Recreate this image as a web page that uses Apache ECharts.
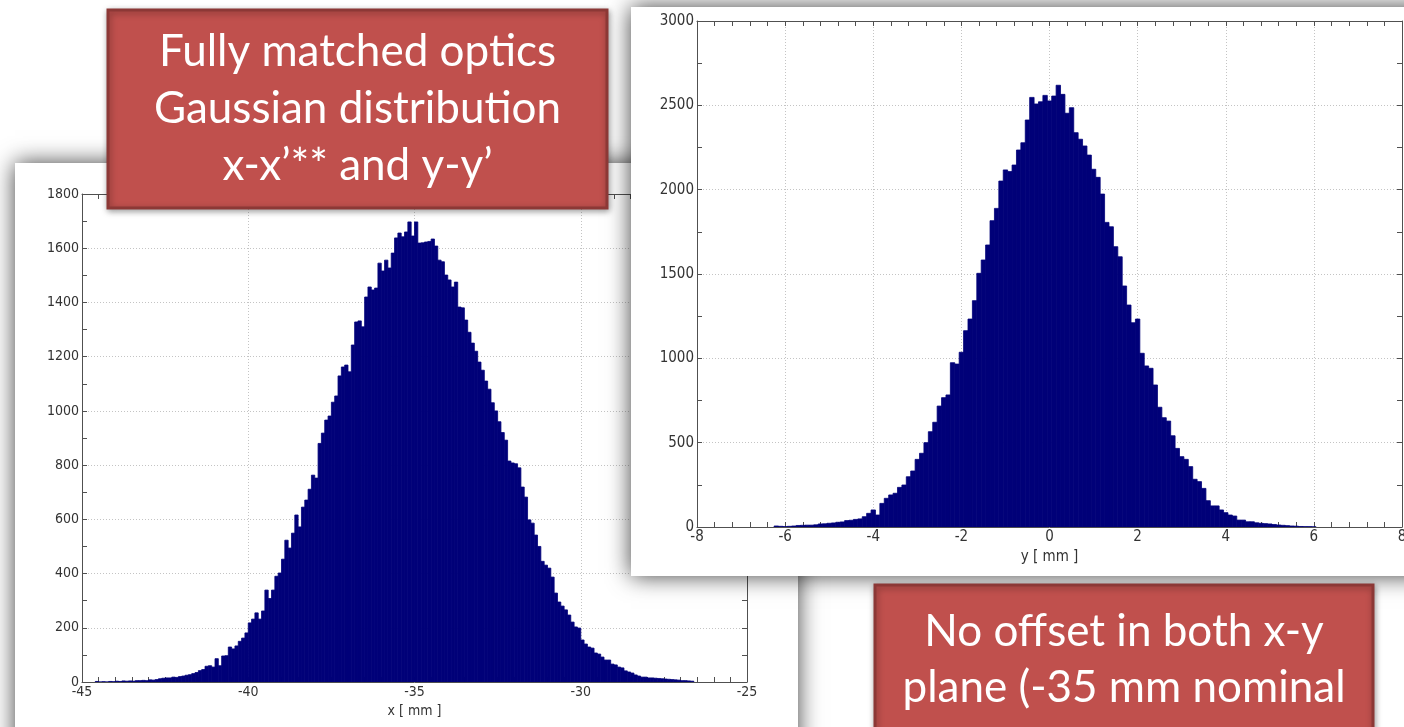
<!DOCTYPE html>
<html>
<head>
<meta charset="utf-8">
<title>Beam profile histograms</title>
<script src="https://cdn.jsdelivr.net/npm/echarts@6/dist/echarts.min.js"></script>
<style>
  html, body { margin: 0; padding: 0; background: #ffffff; }
  #chart { width: 1404px; height: 727px; }
</style>
</head>
<body>
<div id="chart"></div>
<script>
// ---- horizontal profile (x), 0.1 mm bins ----
var xBinStart = -44.55;      // centre of the first bin [mm]
var xBinWidth = 0.1;         // [mm]
var xCounts = [
  2, 0, 1, 0, 2, 1, 3, 2, 4, 3, 4, 3, 5, 5, 6, 5, 8, 7, 9, 12,
  14, 15, 15, 18, 17, 20, 22, 25, 27, 31, 35, 42, 46, 58, 60, 55, 86, 60, 96, 97,
  129, 122, 133, 150, 162, 181, 218, 232, 255, 232, 262, 339, 308, 339, 390, 402, 453, 523, 494, 549,
  616, 572, 645, 671, 711, 763, 752, 880, 918, 966, 981, 1032, 1055, 1129, 1162, 1169, 1144, 1243, 1328, 1332,
  1310, 1420, 1457, 1446, 1453, 1545, 1516, 1556, 1527, 1582, 1638, 1656, 1642, 1660, 1697, 1645, 1697, 1619, 1620, 1623,
  1625, 1634, 1608, 1556, 1550, 1501, 1483, 1457, 1475, 1383, 1380, 1335, 1290, 1250, 1220, 1180, 1150, 1110, 1080, 1030,
  1000, 960, 920, 892, 815, 808, 805, 790, 719, 682, 598, 586, 542, 500, 445, 431, 420, 387, 328, 295,
  280, 266, 247, 221, 203, 199, 155, 140, 129, 125, 107, 103, 92, 81, 81, 66, 63, 55, 52, 41,
  37, 33, 26, 22, 18, 18, 15, 15, 14, 13, 12, 11, 10, 9, 8, 7, 5, 5, 4, 3
];

// ---- vertical profile (y), 0.1 mm bins ----
var yBinStart = -6.2;
var yBinWidth = 0.1;
var yCounts = [
  6, 4, 2, 4, 6, 9, 10, 11, 11, 13, 18, 19, 22, 24, 28, 30, 38, 40, 45, 48,
  61, 81, 101, 71, 140, 170, 190, 200, 235, 249, 298, 332, 401, 437, 500, 565, 621, 717, 767, 783,
  974, 966, 1036, 1164, 1233, 1342, 1504, 1583, 1672, 1816, 1889, 2051, 2117, 2107, 2146, 2235, 2278, 2413, 2547, 2508,
  2521, 2559, 2526, 2555, 2619, 2565, 2453, 2486, 2338, 2299, 2259, 2205, 2121, 2073, 1974, 1806, 1780, 1662, 1602, 1429,
  1316, 1211, 1233, 1030, 955, 941, 842, 710, 648, 628, 541, 466, 417, 401, 358, 283, 269, 229, 156, 125,
  125, 101, 85, 71, 65, 41, 41, 31, 31, 25, 22, 20, 18, 15, 12, 10, 8, 6, 5, 3,
  2, 2, 1
];

// ---- axis ranges / ticks ----
var xAxisRange = { min: -45, max: -25, step: 5, minorSplit: 10, name: 'x [ mm ]' };
var xCountRange = { min: 0, max: 1800, step: 200, minorSplit: 2 };
var yAxisRange = { min: -8, max: 8, step: 2, minorSplit: 5, name: 'y [ mm ]' };
var yCountRange = { min: 0, max: 3000, step: 500, minorSplit: 2 };

// ---- annotation texts ----
var noteTop = ['Fully matched optics', 'Gaussian distribution', 'x-x\u2019** and y-y\u2019'];
var noteBottom = ['No offset in both x-y', 'plane (-35 mm nominal'];

function toBins(start, width, counts) {
  return counts.map(function (c, i) { return [start + i * width, c]; });
}

var BAR_FILL = '#000078';
var AXIS_COLOR = '#505050';
var LABEL_COLOR = '#333333';
var TICK_FONT = "'Liberation Sans Narrow', 'DejaVu Sans Condensed', 'Liberation Sans', sans-serif";

function histRenderer(binWidth) {
  return function (params, api) {
    var c = api.value(0), v = api.value(1);
    var p0 = api.coord([c - binWidth / 2, v]);
    var p1 = api.coord([c + binWidth / 2, 0]);
    return {
      type: 'rect',
      shape: { x: p0[0], y: p0[1], width: p1[0] - p0[0], height: p1[1] - p0[1] },
      style: { fill: BAR_FILL, stroke: BAR_FILL, lineWidth: 0.8 }
    };
  };
}

function plainNumber(v) { return String(v); }

function mainAxis(gridIndex, r, pos, fontSize, nameGap, z) {
  var ax = {
    gridIndex: gridIndex, type: 'value', position: pos,
    min: r.min, max: r.max, interval: r.step, z: z,
    axisLine: { show: true, onZero: false, lineStyle: { color: AXIS_COLOR, width: 1 } },
    axisTick: { show: true, inside: true, length: 5, lineStyle: { color: AXIS_COLOR } },
    minorTick: { show: true, splitNumber: r.minorSplit, length: 5, lineStyle: { color: AXIS_COLOR } },
    axisLabel: { show: true, color: LABEL_COLOR, fontFamily: TICK_FONT, fontSize: fontSize, margin: 3,
                 formatter: plainNumber },
    splitLine: { show: true, lineStyle: { color: '#c4c4c4', type: [1, 2], width: 1 } },
    minorSplitLine: { show: false }
  };
  if (r.name) {
    ax.name = r.name;
    ax.nameLocation = 'middle';
    ax.nameGap = nameGap;
    ax.nameTextStyle = { color: LABEL_COLOR, fontFamily: TICK_FONT, fontSize: fontSize };
  }
  return ax;
}

function mirrorAxis(gridIndex, r, pos, z) {
  return {
    gridIndex: gridIndex, type: 'value', position: pos,
    min: r.min, max: r.max, interval: r.step, z: z,
    axisLine: { show: true, onZero: false, lineStyle: { color: AXIS_COLOR, width: 1 } },
    axisTick: { show: true, inside: true, length: 5, lineStyle: { color: AXIS_COLOR } },
    minorTick: { show: true, splitNumber: r.minorSplit, length: 5, lineStyle: { color: AXIS_COLOR } },
    axisLabel: { show: false },
    splitLine: { show: false }
  };
}

var NOTE_FONT = "44px Lato, 'Open Sans', sans-serif";

function noteBox(x, y, w, h, lines, lineY0, lineGap) {
  var els = [{
    type: 'rect', z: 20,
    shape: { x: x, y: y, width: w, height: h },
    style: { fill: '#c0504d', stroke: '#8c3836', lineWidth: 3,
             shadowBlur: 6, shadowColor: 'rgba(0,0,0,0.35)', shadowOffsetX: 1, shadowOffsetY: 2 }
  }];
  lines.forEach(function (t, i) {
    els.push({
      type: 'text', z: 21,
      style: { text: t, x: x + w / 2, y: lineY0 + i * lineGap, font: NOTE_FONT,
               fill: '#ffffff', textAlign: 'center', textVerticalAlign: 'middle' }
    });
  });
  return els;
}

var chart = echarts.init(document.getElementById('chart'), null, { renderer: 'canvas' });

var graphics = [
  // window behind the x histogram
  { type: 'rect', z: -1, shape: { x: 15, y: 163, width: 783, height: 620 },
    style: { fill: '#ffffff', shadowBlur: 22, shadowColor: 'rgba(0,0,0,0.75)' } },
  // window behind the y histogram
  { type: 'rect', z: 5, shape: { x: 631, y: 7, width: 800, height: 569 },
    style: { fill: '#ffffff', shadowBlur: 22, shadowColor: 'rgba(0,0,0,0.75)' } }
].concat(
  noteBox(108, 10, 499, 198, noteTop, 52, 57),
  noteBox(875, 585, 498, 200, noteBottom, 632, 56)
);

chart.setOption({
  animation: false,
  backgroundColor: '#ffffff',
  grid: [
    { left: 82, top: 194, width: 665, height: 488, outerBoundsMode: 'none' },
    { left: 697, top: 21, width: 705, height: 506, outerBoundsMode: 'none' }
  ],
  xAxis: [
    mainAxis(0, xAxisRange, 'bottom', 14, 21, 2),
    mirrorAxis(0, xAxisRange, 'top', 2),
    mainAxis(1, yAxisRange, 'bottom', 15, 16, 7),
    mirrorAxis(1, yAxisRange, 'top', 7)
  ],
  yAxis: [
    mainAxis(0, xCountRange, 'left', 14, 0, 2),
    mirrorAxis(0, xCountRange, 'right', 2),
    mainAxis(1, yCountRange, 'left', 15, 0, 7),
    mirrorAxis(1, yCountRange, 'right', 7)
  ],
  series: [
    { type: 'custom', name: 'x', xAxisIndex: 0, yAxisIndex: 0, z: 3, clip: true,
      renderItem: histRenderer(xBinWidth), data: toBins(xBinStart, xBinWidth, xCounts) },
    { type: 'custom', name: 'y', xAxisIndex: 2, yAxisIndex: 2, z: 8, clip: true,
      renderItem: histRenderer(yBinWidth), data: toBins(yBinStart, yBinWidth, yCounts) }
  ],
  graphic: { elements: graphics }
});
</script>
</body>
</html>
